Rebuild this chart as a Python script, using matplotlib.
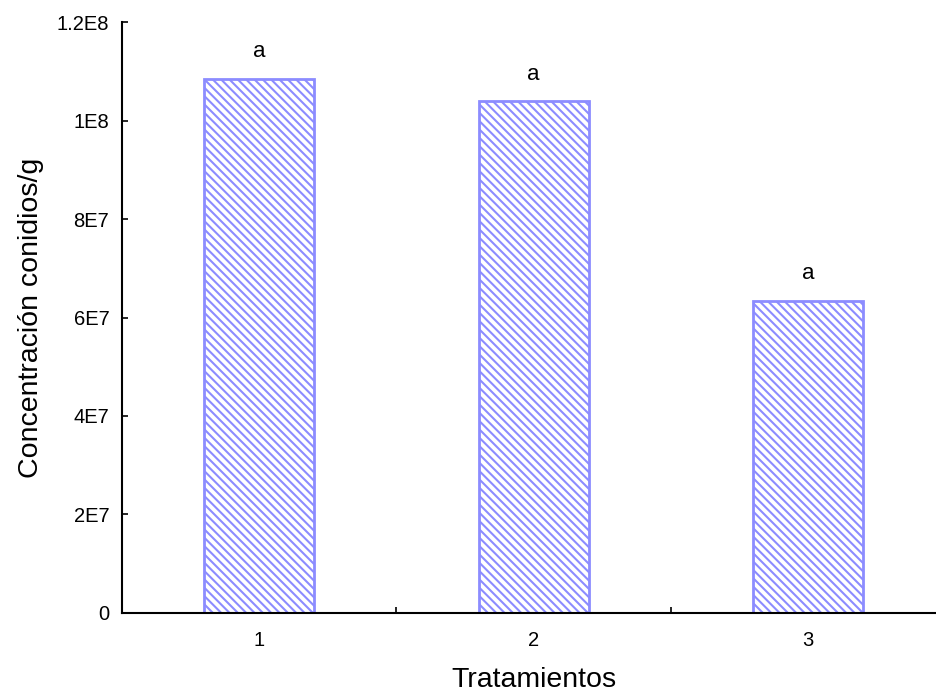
import numpy as np
import matplotlib
matplotlib.use("Agg")
import matplotlib.pyplot as plt
from matplotlib.ticker import FixedLocator

plt.rcParams['font.family'] = ['Liberation Sans', 'DejaVu Sans']
plt.rcParams['hatch.color'] = '#a4a4ff'
plt.rcParams['hatch.linewidth'] = 1.5

# values
tratamientos = ["1", "2", "3"]
conidios = [1.085e8, 1.039e8, 6.34e7]
letras = ["a", "a", "a"]
yticks = [0, 2e7, 4e7, 6e7, 8e7, 1e8, 1.2e8]
ytick_labels = ["0", "2E7", "4E7", "6E7", "8E7", "1E8", "1.2E8"]

fig = plt.figure(figsize=(9.37, 6.91), dpi=100)
ax = fig.add_axes([0.130, 0.113, 0.879, 0.855])

x = np.arange(1, len(tratamientos) + 1)
ax.bar(x, conidios, width=0.4, color='white', edgecolor='#8c8cff',
       linewidth=2, hatch='\\\\\\\\')

for xi, v, l in zip(x, conidios, letras):
    ax.text(xi, v + 3.4e6, l, ha='center', va='bottom', fontsize=16)

ax.set_xlim(0.5, 3.5)
ax.set_ylim(0, 1.2e8)
ax.set_xticks(x)
ax.set_xticklabels(tratamientos, fontsize=14.5)
ax.xaxis.set_minor_locator(FixedLocator([1.5, 2.5]))
ax.tick_params(axis='x', which='major', length=0, pad=13)
ax.tick_params(axis='x', which='minor', direction='in', length=4, width=1.2)
ax.set_yticks(yticks)
ax.set_yticklabels(ytick_labels, fontsize=14.5)
ax.tick_params(axis='y', direction='in', length=4, width=1.2, pad=9)

for s in ['top', 'right']:
    ax.spines[s].set_visible(False)
for s in ['left', 'bottom']:
    ax.spines[s].set_linewidth(1.5)

ax.set_xlabel("Tratamientos", fontsize=20.5, labelpad=12)
ax.set_ylabel("Concentración conidios/g", fontsize=20.5, labelpad=9)

fig.savefig("out.png", dpi=100)
